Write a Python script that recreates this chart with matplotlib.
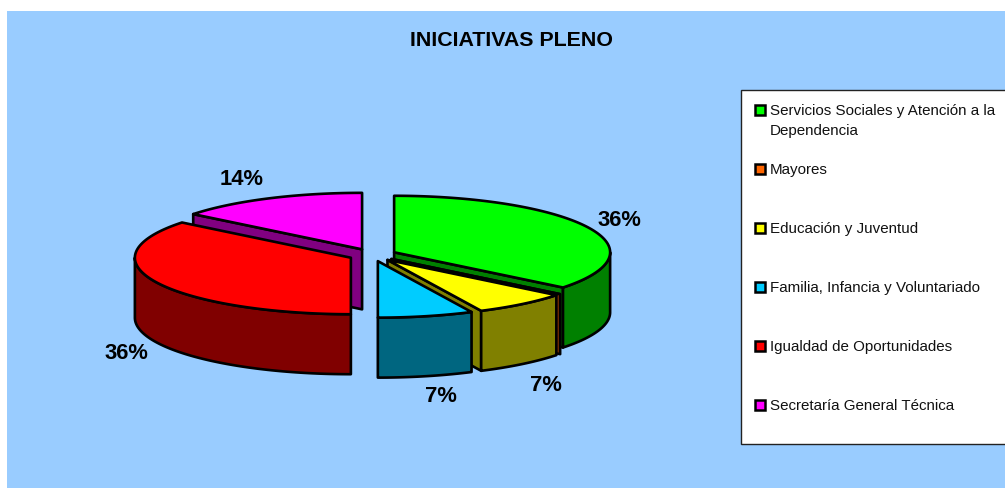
import numpy as np
import matplotlib
matplotlib.use("Agg")
import matplotlib.pyplot as plt
from matplotlib.patches import Polygon, Rectangle

plt.rcParams['font.family'] = ['Liberation Sans', 'DejaVu Sans']

# Data
title = "INICIATIVAS PLENO"
categories = [
    "Servicios Sociales y Atención a la\nDependencia",
    "Mayores",
    "Educación y Juventud",
    "Familia, Infancia y Voluntariado",
    "Igualdad de Oportunidades",
    "Secretaría General Técnica",
]
values = [5, 0, 1, 1, 5, 2]

# Styles
top_colors = ["#00FF00", "#FF6600", "#FFFF00", "#00CCFF", "#FF0000", "#FF00FF"]
side_colors = ["#008000", "#803300", "#808000", "#006680", "#800000", "#800080"]
draw_order = [5, 0, 1, 2, 3, 4]
label_offsets = [(31, -7.5), None, (24, 21.5), (15, 20.5), (-30, 11), (-27, -18.5)]

# Pie geometry in pixels
cx, cy = 372.5, 255.0
rx, ry = 216.0, 56.5
depth = 60.0
explode = 24.0
line_w = 1.9

fig = plt.figure(figsize=(10.05, 4.88), dpi=100, facecolor="white")
ax = fig.add_axes([0, 0, 1, 1])
ax.set_xlim(0, 1005)
ax.set_ylim(488, 0)
ax.axis("off")

ax.add_patch(Rectangle((7, 11), 1000, 480, facecolor="#99CCFF", edgecolor="none", zorder=0))


def rim(apex, deg):
    t = np.radians(deg)
    return apex[0] + rx * np.sin(t), apex[1] - ry * np.cos(t)


def add_poly(points, color):
    ax.add_patch(Polygon(points, closed=True, facecolor=color, edgecolor="black",
                         linewidth=line_w, joinstyle="round"))


def radial_face(apex, deg, color):
    x, y = rim(apex, deg)
    add_poly([apex, (x, y), (x, y + depth), (apex[0], apex[1] + depth)], color)


shares = np.array(values) / sum(values) * 360
ends = np.cumsum(shares)
starts = ends - shares

for i in draw_order:
    a, b = starts[i], ends[i]
    mid = (a + b) / 2
    t = np.radians(mid)
    apex = (cx + explode * np.sin(t), cy - explode * ry / rx * np.cos(t))

    # side faces that look towards the viewer
    if np.sin(np.radians(a)) < -1e-6:
        radial_face(apex, a, side_colors[i])
    if np.sin(np.radians(b)) > 1e-6:
        radial_face(apex, b, side_colors[i])

    # outer wall, only the front half of the pie shows
    w0, w1 = max(a, 90), min(b, 270)
    if w1 > w0:
        angs = np.linspace(w0, w1, 80)
        upper = [rim(apex, d) for d in angs]
        lower = [(x, y + depth) for x, y in upper][::-1]
        add_poly(upper + lower, side_colors[i])

    # top face
    angs = np.linspace(a, b, 160)
    add_poly([apex] + [rim(apex, d) for d in angs], top_colors[i])

    # percent label
    if values[i] > 0:
        x, y = rim(apex, mid)
        if 90 < mid < 270:
            y += depth
        dx, dy = label_offsets[i]
        ax.text(x + dx, y + dy, f"{values[i] / sum(values) * 100:.0f}%", fontsize=15.8,
                fontweight="bold", ha="center", va="center", color="black", zorder=5)

ax.text(512, 41, title, fontsize=15.4, fontweight="bold", ha="center", va="center", color="black")

# Legend box runs off the right edge like the original
ax.add_patch(Rectangle((741, 90), 280, 354, facecolor="white", edgecolor="#222222", linewidth=1.0))
legend_y = [110, 168.5, 227.5, 286.5, 345.5, 404.5]
for name, color, y in zip(categories, top_colors, legend_y):
    ax.add_patch(Rectangle((755, y - 5), 10, 10, facecolor=color, edgecolor="black", linewidth=1.8, zorder=4))
    first, *rest = name.split("\n")
    ax.text(769.5, y + 5.5, first, fontsize=10.9, ha="left", va="baseline", color="#111111", zorder=4)
    for n, line in enumerate(rest):
        ax.text(769.5, y + 5.5 + 20 * (n + 1), line, fontsize=10.9, ha="left", va="baseline",
                color="#111111", zorder=4)

fig.savefig("out.png", dpi=100, facecolor="white")
